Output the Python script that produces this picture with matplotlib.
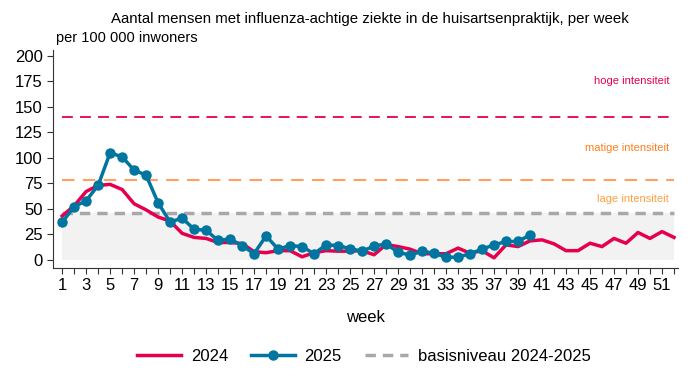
import matplotlib
matplotlib.use("Agg")
import matplotlib.pyplot as plt
from matplotlib.lines import Line2D

plt.rcParams['font.family'] = ['Liberation Sans', 'DejaVu Sans']

weeks_2024 = list(range(1, 53))
values_2024 = [43, 53, 67, 73, 74, 69, 55, 49, 42, 38, 26, 22, 21, 17, 17, 16,
               8, 7, 9, 9, 3, 7, 9, 8.5, 8.5, 9, 5, 15, 13, 10.5, 6, 6, 6, 11.5,
               6.5, 9, 2, 14.7, 13, 18.6, 19.6, 15.7, 9, 9, 16.3, 13, 21, 16.3,
               26.8, 21, 27.7, 22]
weeks_2025 = list(range(1, 41))
values_2025 = [37, 52, 58, 73, 105, 101, 88, 83, 56, 37, 41, 30, 29, 19, 20.5,
               14, 6, 23.5, 10.5, 14, 13, 6, 14.7, 14, 11, 8.5, 13.4, 15.7, 7.5,
               4.6, 8.5, 6.5, 2.6, 2.6, 6, 10.5, 14.7, 18, 18, 24.5]
basis_level = 46
medium_level = 78
high_level = 140
yticks = [0, 25, 50, 75, 100, 125, 150, 175, 200]

red = "#E5004F"
blue = "#00759F"
orange = "#FFA060"
grey = "#A8A8A8"

fig = plt.figure(figsize=(6.9, 3.73), dpi=100)
ax = fig.add_axes([0.077, 0.2815, 0.905, 0.585])

ax.fill_between([1, 52], 0, basis_level, color="#F2F2F2", zorder=0, lw=0)
ax.plot([1, 52], [high_level] * 2, color=red, lw=1.3, dashes=(6, 4), zorder=1)
ax.plot([1, 52], [medium_level] * 2, color=orange, lw=1.5, dashes=(6, 4), zorder=1)
ax.plot([1, 52], [basis_level] * 2, color=grey, lw=2.5, dashes=(3, 2), zorder=1)

ax.plot(weeks_2024, values_2024, color=red, lw=2.5, zorder=3)
ax.plot(weeks_2025, values_2025, color=blue, lw=2.5, marker="o", ms=6.5, zorder=4)

ax.text(51.6, 175, "hoge intensiteit", color="#E5004F", ha="right", va="center", fontsize=8)
ax.text(51.6, 110, "matige intensiteit", color="#FF7F1E", ha="right", va="center", fontsize=8)
ax.text(51.6, 60, "lage intensiteit", color="#FFA040", ha="right", va="center", fontsize=8)

ax.set_xlim(0.25, 52.3)
ax.set_ylim(-8, 206)
ax.set_yticks(yticks)
ax.set_xticks(weeks_2024)
ax.set_xticklabels([str(w) if w % 2 == 1 else "" for w in weeks_2024])
ax.tick_params(axis="both", labelsize=12, color="#333333")
ax.tick_params(axis="x", length=4)
ax.tick_params(axis="y", length=4)
for s in ["top", "right"]:
    ax.spines[s].set_visible(False)
for s in ["left", "bottom"]:
    ax.spines[s].set_color("#333333")

ax.set_xlabel("week", fontsize=12, labelpad=12)
fig.text(0.536, 0.95, "Aantal mensen met influenza-achtige ziekte in de huisartsenpraktijk, per week",
         ha="center", va="center", fontsize=10.8)
fig.text(0.081, 0.898, "per 100 000 inwoners", ha="left", va="center", fontsize=10.5)

handles = [
    Line2D([], [], color=red, lw=2.5),
    Line2D([], [], color=blue, lw=2.5, marker="o", ms=6.5),
    Line2D([], [], color=grey, lw=2.5, dashes=(3, 2)),
]
fig.legend(handles, ["2024", "2025", "basisniveau 2024-2025"], loc="center",
           bbox_to_anchor=(0.528, 0.045), ncol=3, frameon=False, fontsize=12,
           handlelength=2.6, columnspacing=1.4, handletextpad=0.6)

fig.savefig("out.png", dpi=100)
